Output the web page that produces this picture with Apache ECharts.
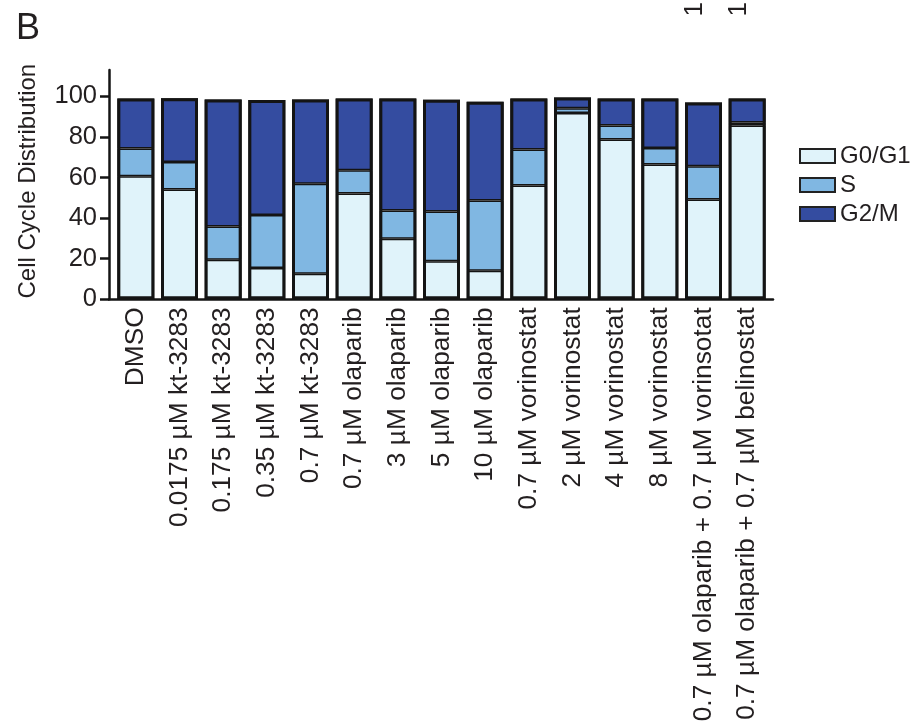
<!DOCTYPE html>
<html>
<head>
<meta charset="utf-8">
<script src="https://cdn.jsdelivr.net/npm/echarts@6/dist/echarts.min.js"></script>
<style>
html,body{margin:0;padding:0;background:#fff;}
#chart{width:918px;height:727px;}
</style>
</head>
<body>
<div id="chart"></div>
<script>
// ---- data ----
const categories = [
  "DMSO",
  "0.0175 µM kt-3283",
  "0.175 µM kt-3283",
  "0.35 µM kt-3283",
  "0.7 µM kt-3283",
  "0.7 µM olaparib",
  "3 µM olaparib",
  "5 µM olaparib",
  "10 µM olaparib",
  "0.7 µM vorinostat",
  "2 µM vorinostat",
  "4 µM vorinostat",
  "8 µM vorinostat",
  "0.7 µM olaparib + 0.7 µM vorinsotat",
  "0.7 µM olaparib + 0.7 µM belinostat"
];
const seriesNames = ["G0/G1", "S", "G2/M"];
const g0g1 = [60.6, 54.1, 19.5, 15.4, 12.6, 52.1, 29.8, 18.7, 14.1, 56.1, 91.8, 78.8, 66.4, 49.2, 85.7];
const sPhase = [13.7, 13.6, 16.4, 26.1, 44.3, 11.5, 14.0, 24.6, 34.6, 17.7, 2.4, 6.8, 8.2, 16.4, 1.4];
const g2m = [24.6, 31.4, 62.6, 56.7, 41.6, 35.3, 55.1, 55.1, 48.7, 25.1, 5.2, 13.3, 24.3, 31.4, 11.8];
const yTicks = [0, 20, 40, 60, 80, 100];

const colors = ["#e0f3fa", "#80b7e2", "#344ca0"];
const FONT = "'Liberation Sans', Arial, Helvetica, sans-serif";
const TXT = "#231f20";
const LINE = "#141414";

const chart = echarts.init(document.getElementById('chart'), null, {renderer: 'canvas'});
const values = [g0g1, sPhase, g2m];
const totals = g0g1.map((v, i) => v + sPhase[i] + g2m[i]);

const stackSeries = seriesNames.map((n, i) => ({
  name: n, type: 'bar', stack: 'cc', xAxisIndex: 0, yAxisIndex: 0,
  data: values[i], barWidth: 37, barGap: '-100%',
  itemStyle: {color: colors[i], borderColor: LINE, borderWidth: 1.5}
}));
const outlineSeries = {
  name: 'outline', type: 'bar', xAxisIndex: 0, yAxisIndex: 0,
  data: totals, barWidth: 37, barGap: '-100%', z: 3,
  itemStyle: {color: 'rgba(0,0,0,0)', borderColor: LINE, borderWidth: 3},
  tooltip: {show: false}, silent: true
};

const option = {
  animation: false,
  backgroundColor: '#fff',
  textStyle: {fontFamily: FONT, color: TXT},
  grid: [
    {left: 114, width: 655, top: 70, height: 229.3},
    {left: 109, width: 664, top: 70, height: 229.3}
  ],
  xAxis: [
    {
      type: 'category', gridIndex: 0, data: categories,
      axisLine: {show: false},
      axisTick: {show: false},
      axisLabel: {
        rotate: 90, margin: 8, fontSize: 26.3, color: TXT, fontFamily: FONT,
        interval: 0
      }
    },
    {
      type: 'value', gridIndex: 1, min: 0, max: 1,
      axisLine: {show: true, onZero: false, lineStyle: {color: LINE, width: 2.5}},
      axisTick: {show: false}, axisLabel: {show: false}, splitLine: {show: false}
    }
  ],
  yAxis: [
    {
      type: 'value', gridIndex: 0, min: 0, max: 113, show: false
    },
    {
      type: 'value', gridIndex: 1, min: 0, max: 113,
      name: 'Cell Cycle Distribution', nameLocation: 'middle', nameGap: 69,
      nameTextStyle: {fontSize: 24, color: TXT, fontFamily: FONT, padding: [0, 0, 0, 7]},
      axisLine: {show: true, lineStyle: {color: LINE, width: 2.5}},
      axisTick: {show: true, length: 9, lineStyle: {color: LINE, width: 2.5}, customValues: yTicks},
      axisLabel: {fontSize: 25.5, color: TXT, margin: 12, fontFamily: FONT, customValues: yTicks},
      splitLine: {show: false}
    }
  ],
  legend: {
    orient: 'vertical', left: 799, top: 144, padding: 0,
    itemWidth: 35, itemHeight: 14, itemGap: 5, itemTextGap: 10,
    icon: 'rect',
    textStyle: {fontSize: 24, color: TXT, fontFamily: FONT, lineHeight: 24},
    itemStyle: {borderColor: '#222', borderWidth: 2},
    data: seriesNames
  },
  series: stackSeries.concat([outlineSeries]),
  graphic: [
    {type: 'text', left: 16, top: 11, style: {text: 'B', fontSize: 36, fill: TXT, fontFamily: FONT}},
    {type: 'group', x: 708, y: 2, rotation: Math.PI / 2, children: [
      {type: 'text', style: {text: '1', fontSize: 26, fill: TXT, fontFamily: FONT,
        align: 'right', verticalAlign: 'bottom', textAlign: 'right', textVerticalAlign: 'bottom'}}
    ]},
    {type: 'group', x: 752, y: 2, rotation: Math.PI / 2, children: [
      {type: 'text', style: {text: '1', fontSize: 26, fill: TXT, fontFamily: FONT,
        align: 'right', verticalAlign: 'bottom', textAlign: 'right', textVerticalAlign: 'bottom'}}
    ]}
  ]
};
chart.setOption(option);
</script>
</body>
</html>
